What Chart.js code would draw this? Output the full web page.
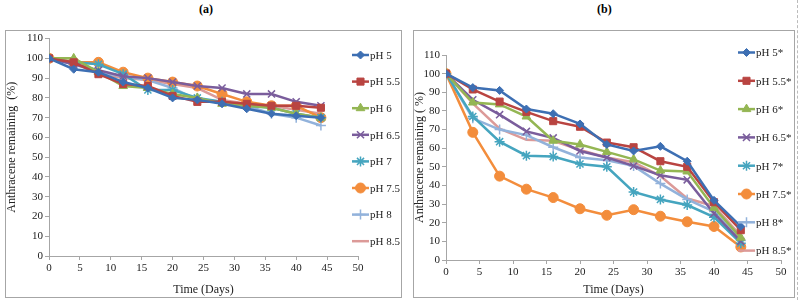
<!DOCTYPE html>
<html>
<head>
<meta charset="utf-8">
<script src="https://cdn.jsdelivr.net/npm/chart.js@4"></script>
<style>
  body { margin: 0; background: #fff; width: 800px; height: 300px; position: relative; overflow: hidden; font-family: "Liberation Serif", serif; }
  .box { position: absolute; border: 1px solid #a6a6a6; box-sizing: border-box; }
  .ttl { position: absolute; top: 2px; font-weight: bold; font-size: 12px; }
  canvas { position: absolute; }
</style>
</head>
<body>
<div class="ttl" style="left:199px">(a)</div>
<div class="ttl" style="left:597px">(b)</div>
<div class="box" style="left:5px;top:30px;width:397px;height:268px"></div>
<div class="box" style="left:413px;top:30px;width:382px;height:268px"></div>
<div style="position:absolute;left:797px;top:0;height:300px;border-left:1px dashed #bbb"></div>
<canvas id="chartA" style="left:5px;top:30px" width="396" height="267"></canvas>
<canvas id="chartB" style="left:413px;top:30px" width="382" height="267"></canvas>
<script>
// sampling days
var days = [0, 4, 8, 12, 16, 20, 24, 28, 32, 36, 40, 44];

// (a) anthracene remaining (%)
var a_ph5   = [100, 94.5, 93, 88, 85, 80, 79, 77, 74.5, 72, 71, 70];
var a_ph55  = [100, 98, 92, 87, 86, 81, 78, 78, 77, 76, 76, 75];
var a_ph6   = [100, 100, 93, 86, 85, 82, 80, 77, 76, 75, 72, 70];
var a_ph65  = [100, 97, 94, 91, 90, 88, 86, 85, 82, 82, 78, 76];
var a_ph7   = [100, 98, 97, 92, 84, 84, 80, 78, 76, 75, 72, 70];
var a_ph75  = [100, 98, 98, 93, 90, 88, 86, 82, 78, 76, 76, 70];
var a_ph8   = [100, 97, 93, 91, 89, 85, 79, 78, 76, 72, 70, 66];
var a_ph85  = [100, 100, 92, 90, 89, 87, 85, 79, 77, 76, 74, 72];

// (b) anthracene remaining (%)
var b_ph5   = [100, 92.5, 91, 81, 78.5, 73, 62, 58.5, 61, 53, 32, 18];
var b_ph55  = [100, 91.5, 85, 79.5, 74.5, 71.5, 63, 60.5, 53, 50, 31, 16];
var b_ph6   = [100, 84.5, 83.5, 77, 64, 62, 58, 54, 48, 47.5, 28, 12];
var b_ph65  = [100, 86, 78, 69, 65.5, 58.5, 55, 50.5, 45.5, 43, 25, 10];
var b_ph7   = [100, 77, 63.5, 56, 55.5, 51.5, 50, 36.5, 32.5, 29.5, 23, 9];
var b_ph75  = [100, 68.5, 45, 38, 33.5, 27.5, 24, 27, 23.5, 20.5, 18, 7];
var b_ph8   = [100, 76, 70, 67, 60.5, 55, 53.5, 50.5, 41, 32.5, 26, 10.5];
var b_ph85  = [100, 84, 70.5, 64.5, 64, 59, 55, 52.5, 45, 33, 29, 13];

var labelsA = ['pH 5', 'pH 5.5', 'pH 6', 'pH 6.5', 'pH 7', 'pH 7.5', 'pH 8', 'pH 8.5'];
var labelsB = ['pH 5*', 'pH 5.5*', 'pH 6*', 'pH 6.5*', 'pH 7*', 'pH 7.5*', 'pH 8*', 'pH 8.5*'];

var colors = ['#3d6fb3', '#b94441', '#94b653', '#7a5d9c', '#45a5bf', '#f38d3c', '#92b2db', '#dc9a98'];
var styles = ['rectRot', 'rect', 'triangle', 'crossRot', 'star', 'circle', 'cross', false];
var radii  = [4, 5, 5, 5, 5, 5, 5, 0];

function toPoints(vals) {
    return vals.map(function(v, i) { return { x: days[i], y: v }; });
}

function makeDatasets(series, labels) {
    return series.map(function(vals, i) {
        return {
            label: labels[i],
            data: toPoints(vals),
            borderColor: colors[i],
            backgroundColor: colors[i],
            borderWidth: 2.5,
            pointStyle: styles[i],
            pointRadius: radii[i],
            pointBorderWidth: styles[i] === 'crossRot' || styles[i] === 'star' || styles[i] === 'cross' ? 1.5 : 1,
            tension: 0
        };
    });
}

// legend drawn beside the plot: line with marker in the middle, then text
function sideLegend(x, y0, step) {
    return {
        id: 'sideLegend',
        afterDraw: function(chart) {
            var ctx = chart.ctx;
            ctx.save();
            chart.data.datasets.forEach(function(ds, i) {
                var y = y0 + i * step;
                ctx.strokeStyle = ds.borderColor;
                ctx.fillStyle = ds.borderColor;
                ctx.lineWidth = 2.5;
                ctx.beginPath();
                ctx.moveTo(x, y);
                ctx.lineTo(x + 17, y);
                ctx.stroke();
                if (ds.pointStyle) {
                    ctx.lineWidth = ds.pointBorderWidth;
                    Chart.helpers.drawPoint(ctx, { pointStyle: ds.pointStyle, radius: ds.pointRadius, rotation: 0, borderWidth: ds.pointBorderWidth }, x + 8.5, y);
                }
                ctx.fillStyle = '#222';
                ctx.font = '11px "Liberation Serif"';
                ctx.textBaseline = 'middle';
                ctx.textAlign = 'left';
                ctx.fillText(ds.label, x + 18, y + 1);
            });
            ctx.restore();
        }
    };
}

function makeOptions(yTitle, yWidth, xHeight, pad) {
    var tickFont = { family: 'Liberation Serif', size: 11 };
    var grid = { display: true, drawOnChartArea: false, drawTicks: true, tickLength: 4, color: '#a6a6a6' };
    return {
        responsive: false,
        animation: false,
        layout: { padding: pad },
        plugins: { legend: { display: false }, tooltip: { enabled: false } },
        scales: {
            x: {
                type: 'linear', min: 0, max: 50,
                ticks: { stepSize: 5, color: '#222', font: tickFont, padding: 2, maxRotation: 0 },
                grid: grid,
                border: { color: '#a6a6a6' },
                title: { display: true, text: 'Time (Days)', color: '#222', font: { family: 'Liberation Serif', size: 12 }, padding: 0 },
                afterFit: function(s) { s.height = xHeight; }
            },
            y: {
                min: 0, max: 110,
                ticks: { stepSize: 10, color: '#222', font: tickFont, padding: 2 },
                grid: grid,
                border: { color: '#a6a6a6' },
                title: { display: true, text: yTitle, color: '#222', font: { family: 'Liberation Serif', size: 12 }, padding: 0 },
                afterFit: function(s) { s.width = yWidth; }
            }
        }
    };
}

new Chart(document.getElementById('chartA').getContext('2d'), {
    type: 'line',
    data: { datasets: makeDatasets([a_ph5, a_ph55, a_ph6, a_ph65, a_ph7, a_ph75, a_ph8, a_ph85], labelsA) },
    options: makeOptions('Anthracene remaining  (%)', 44, 41, { left: 0, top: 8, right: 43, bottom: 0 }),
    plugins: [sideLegend(347, 25, 26.6)]
});

new Chart(document.getElementById('chartB').getContext('2d'), {
    type: 'line',
    data: { datasets: makeDatasets([b_ph5, b_ph55, b_ph6, b_ph65, b_ph7, b_ph75, b_ph8, b_ph85], labelsB) },
    options: makeOptions('Anthracene remaining ( %)', 33, 37, { left: 0, top: 25, right: 14, bottom: 0 }),
    plugins: [sideLegend(325, 22.5, 28.3)]
});
</script>
</body>
</html>
